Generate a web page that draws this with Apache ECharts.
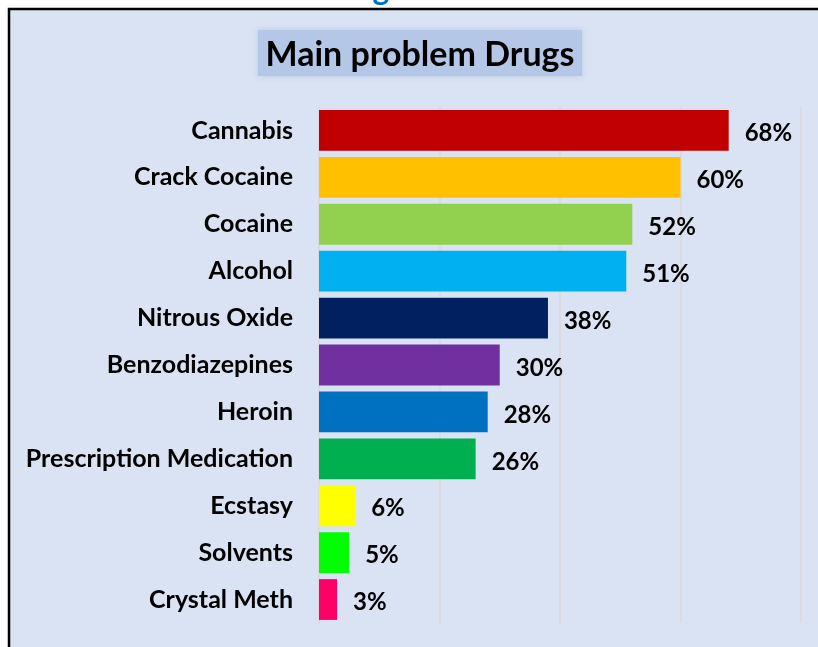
<!DOCTYPE html>
<html>
<head>
<meta charset="utf-8">
<script src="https://cdn.jsdelivr.net/npm/echarts@6/dist/echarts.min.js"></script>
<style>
html,body{margin:0;padding:0;background:#ffffff;}
#chart{width:818px;height:647px;}
</style>
</head>
<body>
<div id="chart"></div>
<script>
const categories = ["Cannabis","Crack Cocaine","Cocaine","Alcohol","Nitrous Oxide","Benzodiazepines","Heroin","Prescription Medication","Ecstasy","Solvents","Crystal Meth"];
const values = [68,60,52,51,38,30,28,26,6,5,3];
const barColors = ["#c00000","#ffc000","#92d050","#00b0f0","#002060","#7030a0","#0070c0","#00b050","#ffff00","#00ff00","#ff0066"];
const xTicks = [0,20,40,60,80];
const titleText = "Main problem Drugs";

const chart = echarts.init(document.getElementById('chart'), null, {renderer:'canvas'});
const FONT = 'Lato';
chart.setOption({
  animation:false,
  backgroundColor:'#ffffff',
  graphic:[
    {type:'rect', z:-10, shape:{x:9, y:9, width:830, height:660}, style:{fill:'#dae3f3', stroke:'#000000', lineWidth:2.5}},
    {type:'rect', z:-5, shape:{x:258, y:30, width:324, height:46}, style:{fill:'#b4c7e7', shadowBlur:6, shadowColor:'rgba(180,199,231,0.9)'}},
    {type:'text', z:10, x:420, y:55, style:{text:titleText, font:'bold 34px Lato', fill:'#000000', align:'center', verticalAlign:'middle'}},
    {type:'text', z:10, x:381, y:-26, style:{text:'g', font:'bold 32px Lato', fill:'#0070c0', align:'center', verticalAlign:'top'}}
  ],
  grid:{left:319, right:17, top:107, bottom:24, containLabel:false},
  xAxis:{
    type:'value', min:xTicks[0], max:xTicks[xTicks.length-1], interval:20,
    axisLine:{show:false}, axisTick:{show:false}, axisLabel:{show:false},
    splitLine:{show:true, lineStyle:{color:'#d9d9d9', width:1.5}}
  },
  yAxis:{
    type:'category', data:categories, inverse:true,
    axisLine:{show:false}, axisTick:{show:false},
    axisLabel:{margin:26, fontFamily:FONT, fontWeight:'bold', fontSize:25, color:'#000000', padding:[5,0,0,0]}
  },
  series:[{
    type:'bar',
    data: values.map((v,i)=>({value:v, itemStyle:{color:barColors[i]}})),
    barCategoryGap:'13%',
    label:{show:true, position:'right', distance:16, offset:[0,3], formatter:'{c}%', fontFamily:FONT, fontWeight:'bold', fontSize:24, color:'#000000'}
  }]
});
</script>
</body>
</html>
